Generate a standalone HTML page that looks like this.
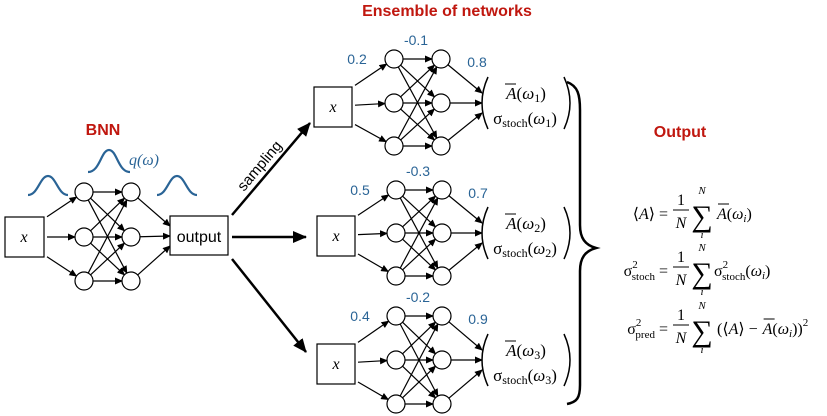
<!DOCTYPE html>
<html><head><meta charset="utf-8"><style>
html,body{margin:0;padding:0;background:#fff;}
svg{display:block;}
.t{font-family:"Liberation Sans",sans-serif;}
.s{font-family:"Liberation Serif",serif;}
.blue{fill:#2a6496;font-family:"Liberation Sans",sans-serif;font-size:14px;}
.red{fill:#c0170f;font-family:"Liberation Sans",sans-serif;font-size:16px;font-weight:bold;}
</style></head><body>
<svg id="svg" width="827" height="416" viewBox="0 0 827 416" xmlns="http://www.w3.org/2000/svg">
<defs><marker id="ah" markerWidth="8" markerHeight="8" refX="7" refY="4" orient="auto" markerUnits="userSpaceOnUse"><path d="M0,0.5 L8,4 L0,7.5 z" fill="#000"/></marker>
<marker id="ahb" markerWidth="14" markerHeight="12" refX="13" refY="6" orient="auto" markerUnits="userSpaceOnUse"><path d="M0,0 L14,6 L0,12 z" fill="#000"/></marker></defs>
<g id="g" stroke="#000" fill="none" stroke-width="1.2"></g>
<text class="red" x="447" y="16" text-anchor="middle">Ensemble of networks</text>
<text class="red" x="103" y="135" text-anchor="middle">BNN</text>
<text class="red" x="680" y="137" text-anchor="middle">Output</text>
<text class="s" x="129" y="165" font-size="16" font-style="italic" fill="#2a6496">q(ω)</text>
<path d="M28,195 C38,195 40,176 48,176 C56,176 58,195 68,195" stroke="#2a6496" stroke-width="2.2" fill="none"/>
<path d="M88,172 C100,172 101,150 109,150 C117,150 118,172 130,172" stroke="#2a6496" stroke-width="2.2" fill="none"/>
<path d="M157,195 C167,195 169,176 177,176 C185,176 187,195 197,195" stroke="#2a6496" stroke-width="2.2" fill="none"/>
<rect x="5" y="217" width="39" height="40" fill="#fff" stroke="#000" stroke-width="1.2"/>
<text class="s" x="24" y="242" font-size="16" font-style="italic" text-anchor="middle">x</text>
<rect x="170" y="216" width="58" height="39" fill="#fff" stroke="#000" stroke-width="1.2"/>
<text class="t" x="199" y="242" font-size="16" text-anchor="middle">output</text>
<line x1="232" y1="215" x2="310" y2="123" stroke="#000" stroke-width="2.5" marker-end="url(#ahb)"/>
<line x1="232" y1="237" x2="306" y2="237" stroke="#000" stroke-width="2.5" marker-end="url(#ahb)"/>
<line x1="232" y1="259" x2="306" y2="352" stroke="#000" stroke-width="2.5" marker-end="url(#ahb)"/>
<text class="t" x="0" y="0" font-size="15" transform="translate(244,192) rotate(-50)">sampling</text>
<path d="M567,82 C578,86 580,95 580,110 L580,225 C580,238 585,245 596,248 C585,251 580,258 580,271 L580,385 C580,398 577,402 567,404" stroke="#000" stroke-width="2.5" fill="none"/>
<g class="s" font-size="16">
<text x="668" y="219" text-anchor="end">⟨<tspan font-style="italic">A</tspan>⟩ =</text>
<text x="681" y="205" text-anchor="middle">1</text><line x1="673" y1="210" x2="689" y2="210" stroke="#000"/>
<text x="681" y="228" text-anchor="middle" font-style="italic">N</text>
<text x="702" y="226" font-size="30" text-anchor="middle">∑</text>
<text x="702" y="194" font-size="11" font-style="italic" text-anchor="middle">N</text>
<text x="702" y="238" font-size="11" font-style="italic" text-anchor="middle">i</text>
<text x="717" y="219"><tspan font-style="italic">A</tspan>(<tspan font-style="italic">ω</tspan><tspan font-size="11" dy="3" font-style="italic">i</tspan><tspan dy="-3">)</tspan></text>
<line x1="718" y1="204" x2="729" y2="204" stroke="#000"/>

<text x="668" y="276" text-anchor="end">σ<tspan font-size="11" dy="-8">2</tspan><tspan font-size="11" dx="-6" dy="12">stoch</tspan><tspan dy="-4"> =</tspan></text>
<text x="681" y="262" text-anchor="middle">1</text><line x1="673" y1="267" x2="689" y2="267" stroke="#000"/>
<text x="681" y="285" text-anchor="middle" font-style="italic">N</text>
<text x="702" y="283" font-size="30" text-anchor="middle">∑</text>
<text x="702" y="251" font-size="11" font-style="italic" text-anchor="middle">N</text>
<text x="702" y="295" font-size="11" font-style="italic" text-anchor="middle">i</text>
<text x="714" y="276">σ<tspan font-size="11" dy="-8">2</tspan><tspan font-size="11" dx="-6" dy="12">stoch</tspan><tspan dy="-4">(</tspan><tspan font-style="italic">ω</tspan><tspan font-size="11" dy="3" font-style="italic">i</tspan><tspan dy="-3">)</tspan></text>

<text x="668" y="334" text-anchor="end">σ<tspan font-size="11" dy="-8">2</tspan><tspan font-size="11" dx="-6" dy="12">pred</tspan><tspan dy="-4"> =</tspan></text>
<text x="681" y="320" text-anchor="middle">1</text><line x1="673" y1="325" x2="689" y2="325" stroke="#000"/>
<text x="681" y="343" text-anchor="middle" font-style="italic">N</text>
<text x="702" y="341" font-size="30" text-anchor="middle">∑</text>
<text x="702" y="309" font-size="11" font-style="italic" text-anchor="middle">N</text>
<text x="702" y="353" font-size="11" font-style="italic" text-anchor="middle">i</text>
<text id="f3a" x="717" y="334">(⟨<tspan font-style="italic">A</tspan>⟩&#160;−&#160;</text>
<text id="f3b" x="762" y="334"><tspan font-style="italic">A</tspan>(<tspan font-style="italic">ω</tspan><tspan font-size="11" dy="3" font-style="italic">i</tspan><tspan dy="-3">))</tspan><tspan font-size="11" dy="-8">2</tspan></text>
<line id="f3l" x1="763" y1="319" x2="774" y2="319" stroke="#000"/>
</g>
<g id="lab"></g>
</svg>
<script>
var NS="http://www.w3.org/2000/svg",g=document.getElementById('g'),lab=document.getElementById('lab');
try{var w=document.getElementById('f3a').getComputedTextLength();var x=717+w+1;document.getElementById('f3b').setAttribute('x',x);var l=document.getElementById('f3l');l.setAttribute('x1',x+1);l.setAttribute('x2',x+12);}catch(e){}
function el(t,a,p){var e=document.createElementNS(NS,t);for(var k in a)e.setAttribute(k,a[k]);(p||g).appendChild(e);return e;}
function arrow(x1,y1,x2,y2,r){var dx=x2-x1,dy=y2-y1,L=Math.sqrt(dx*dx+dy*dy);el('line',{x1:x1,y1:y1,x2:x2-dx/L*r,y2:y2-dy/L*r,'marker-end':'url(#ah)'});}
var R=9;
function net(bx,by,bw,bh,l1,l2,ys,tx,tys){
 var cy=by+bh/2;
 ys.forEach(function(y){arrow(bx+bw+3,cy+(y-cy)*0.45,l1,y,R);});
 ys.forEach(function(a){ys.forEach(function(b){var dx=l2-l1,dy=b-a,L=Math.sqrt(dx*dx+dy*dy);arrow(l1+dx/L*R,a+dy/L*R,l2,b,R);});});
 ys.forEach(function(y,i){var dx=tx-l2,dy=tys[i]-y,L=Math.sqrt(dx*dx+dy*dy);arrow(l2+dx/L*R,y+dy/L*R,tx,tys[i],0);});
 ys.forEach(function(y){el('circle',{cx:l1,cy:y,r:R,fill:'#fff'});el('circle',{cx:l2,cy:y,r:R,fill:'#fff'});});
}
net(5,217,39,40,84,131,[192,237,281],170,[226,236,246]);
function ens(bx,by,l1,l2,ys,w,n){
 el('rect',{x:bx,y:by,width:38,height:40,fill:'#fff'});
 var t=el('text',{x:bx+19,y:by+25,'font-size':16,'font-style':'italic','text-anchor':'middle',class:'s',fill:'#000',stroke:'none'},lab);t.textContent='x';
 var my=ys[1];
 net(bx,by,38,40,l1,l2,ys,482,[my-10,my,my+10]);
 el('path',{d:'M488,'+(my-26)+' Q476,'+my+' 488,'+(my+26),'stroke-width':1.5});
 el('path',{d:'M564,'+(my-26)+' Q576,'+my+' 564,'+(my+26),'stroke-width':1.5});
 var a=el('text',{x:526,y:my-4,'font-size':17,'text-anchor':'middle',class:'s',fill:'#000',stroke:'none'},lab);
 a.innerHTML='<tspan font-style="italic">A</tspan>(<tspan font-style="italic">ω</tspan><tspan font-size="12" dy="3">'+n+'</tspan><tspan dy="-3">)</tspan>';
 el('line',{x1:505,y1:my-19,x2:516,y2:my-19},lab).setAttribute('stroke','#000');
 var s=el('text',{x:525,y:my+21,'font-size':17,'text-anchor':'middle',class:'s',fill:'#000',stroke:'none'},lab);
 s.innerHTML='σ<tspan font-size="12" dy="3">stoch</tspan><tspan dy="-3">(</tspan><tspan font-style="italic">ω</tspan><tspan font-size="12" dy="3">'+n+'</tspan><tspan dy="-3">)</tspan>';
 var L=[[bx+43,ys[0]+5,w[0]],[l1+22,ys[0]-14,w[1]],[l2+36,ys[0]+8,w[2]]];
 L.forEach(function(q){var e=el('text',{x:q[0],y:q[1],class:'blue','text-anchor':'middle',stroke:'none'},lab);e.textContent=q[2];});
}
ens(314,87,394,441,[59,103,146],['0.2','-0.1','0.8'],1);
ens(317,216,396,442,[190,233,276],['0.5','-0.3','0.7'],2);
ens(317,344,396,442,[316,360,404],['0.4','-0.2','0.9'],3);
</script>
</body></html>
